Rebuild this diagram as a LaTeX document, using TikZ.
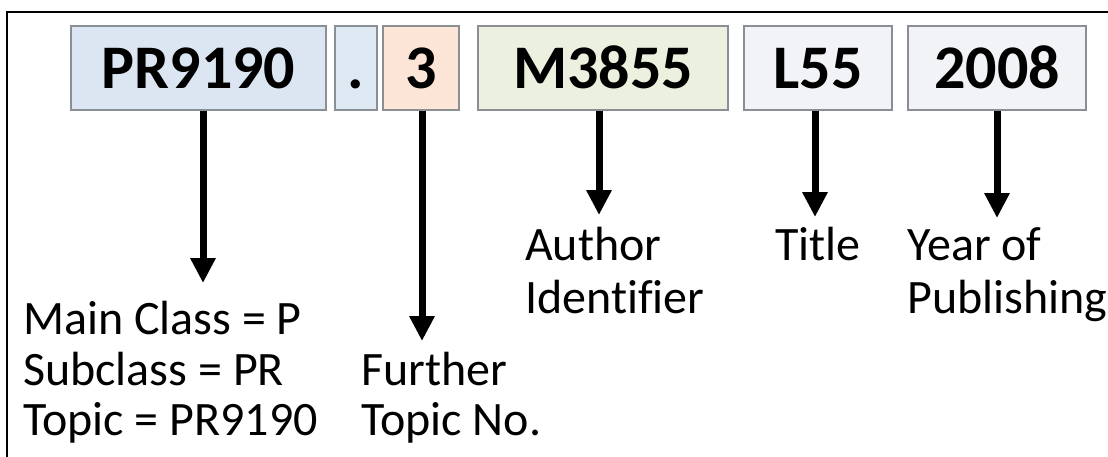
\documentclass[tikz,border=0pt]{standalone}
\usepackage{fontspec}
\setmainfont{Carlito}[Ligatures=NoCommon]
\usetikzlibrary{arrows.meta,calc}
\definecolor{bluefill}{HTML}{DCE6F2}
\definecolor{dotfill}{HTML}{DDE8F3}
\definecolor{peachfill}{HTML}{FCE4D6}
\definecolor{greenfill}{HTML}{EBF1DE}
\definecolor{grayfill}{HTML}{F1F3F6}
\definecolor{boxline}{HTML}{8A8F96}
\tikzset{
  cbox/.style={draw=boxline, line width=1.8pt, minimum height=84pt, inner sep=0pt,
    text height=41pt, text depth=0pt,
    font=\bfseries\fontsize{62}{62}\selectfont},
  arr/.style={line width=7pt, -{Triangle[length=25pt,width=24pt]}},
  lbl/.style={anchor=base west, inner sep=0pt, font=\fontsize{48}{50}\selectfont}
}
\begin{document}
\begin{tikzpicture}[x=1pt,y=-1pt]
\useasboundingbox (0,0) rectangle (1108,456);
\fill[white] (0,0) rectangle (1108,456);
\draw[line width=2pt, black] (7,460) -- (7,12) -- (1112,12);
% boxes
\node[cbox, fill=bluefill, minimum width=255pt] (pr) at (198.5,68) {PR9190};
\node[cbox, fill=dotfill, minimum width=42pt] (dot) at (356,68) {.};
\node[cbox, fill=peachfill, minimum width=76pt] (three) at (421,68) {3};
\node[cbox, fill=greenfill, minimum width=250pt] (auth) at (603,68) {M3855};
\node[cbox, fill=grayfill, minimum width=148pt] (ttl) at (818,68) {L55};
\node[cbox, fill=grayfill, minimum width=178pt] (yr) at (997,68) {2008};
% arrow tips
\coordinate (prtip) at (203,283);
\coordinate (threetip) at (422,341);
\coordinate (authtip) at (599,215);
\coordinate (ttltip) at (815,217);
\coordinate (yrtip) at (997,218);
\draw[arr] (pr.south -| prtip) -- (prtip);
\draw[arr] (three.south -| threetip) -- (threetip);
\draw[arr] (auth.south -| authtip) -- (authtip);
\draw[arr] (ttl.south -| ttltip) -- (ttltip);
\draw[arr] (yr.south -| yrtip) -- (yrtip);
% labels
\node[lbl] (l1) at (23,334) {Main Class = P};
\node[lbl] (l2) at (23,385) {Subclass = PR};
\node[lbl] (l3) at (23,435) {Topic = PR9190};
\node[lbl] (f1) at (361,385) {Further};
\node[lbl] (f2) at (361,435) {Topic No.};
\node[lbl] (a1) at (525,260) {Author};
\node[lbl] (a2) at (525,313) {Identifier};
\node[lbl] (t1) at (775,260) {Title};
\node[lbl] (y1) at (907,260) {Year of};
\node[lbl] (y2) at (907,313) {Publishing};
\end{tikzpicture}
\end{document}
